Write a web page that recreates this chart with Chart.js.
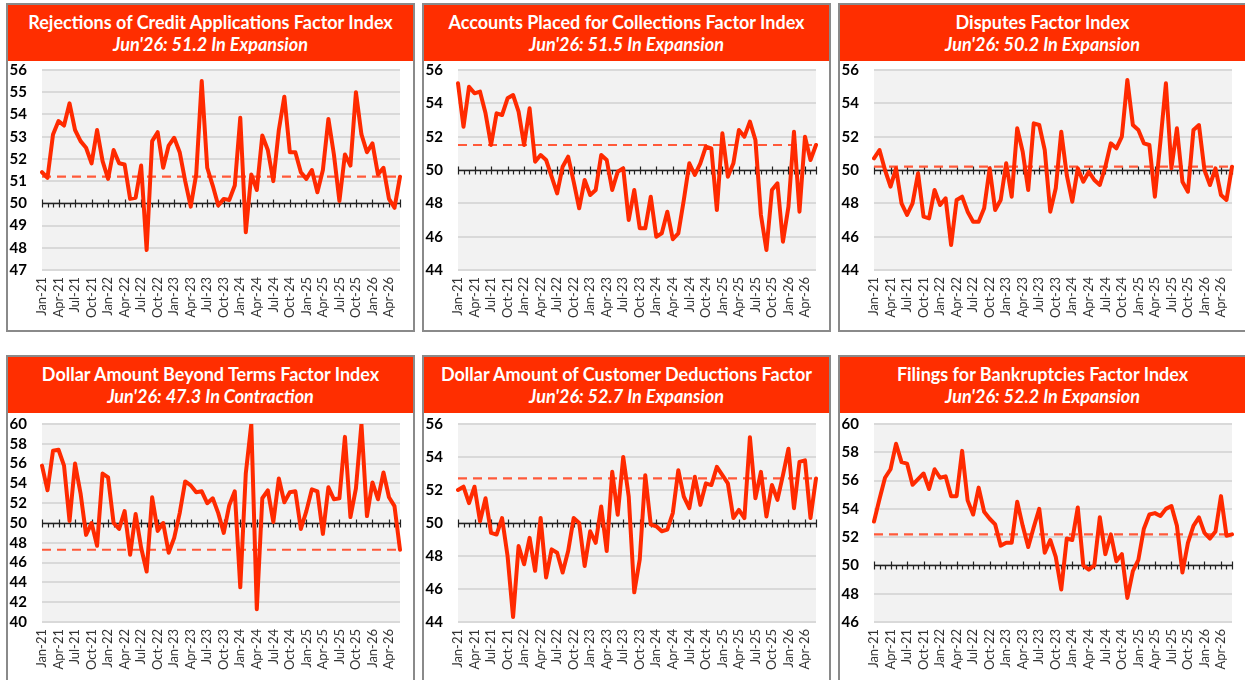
<!DOCTYPE html>
<html>
<head>
<meta charset="utf-8">
<script src="https://cdn.jsdelivr.net/npm/chart.js@4"></script>
<style>
  body { margin:0; background:#fff; width:1245px; height:680px; overflow:hidden; position:relative; font-family:Lato, "Open Sans", sans-serif; }
  .panel { position:absolute; width:409px; height:329px; border:2px solid #8a8a8a; box-sizing:border-box; background:#fff; overflow:hidden; }
  .panel.low { height:340px; }
  .head { position:absolute; left:0; top:0; right:0; height:56px; background:#ff2e00; color:#fff; text-align:center; }
  .head .t { position:absolute; left:0; right:0; top:6px; font-weight:700; font-size:18px; line-height:22px; white-space:nowrap; }
  .head .s { position:absolute; left:0; right:0; top:28px; font-weight:700; font-style:italic; font-size:18px; line-height:22px; white-space:nowrap; }
  .panel canvas { position:absolute; left:0; top:56px; }
</style>
</head>
<body>
<div id="wrap"></div>
<script>
// months Jan-21 .. Jun-26
const MONTHS = ['Jan','Feb','Mar','Apr','May','Jun','Jul','Aug','Sep','Oct','Nov','Dec'];
const YEARS = ['21','22','23','24','25','26'];
const labels = YEARS.flatMap(y => MONTHS.map(m => m + '-' + y)).slice(0, 66);

const titles = [
  'Rejections of Credit Applications Factor Index',
  'Accounts Placed for Collections Factor Index',
  'Disputes Factor Index',
  'Dollar Amount Beyond Terms Factor Index',
  'Dollar Amount of Customer Deductions Factor',
  'Filings for Bankruptcies Factor Index'
];
const subtitles = [
  "Jun'26: 51.2 In Expansion",
  "Jun'26: 51.5 In Expansion",
  "Jun'26: 50.2 In Expansion",
  "Jun'26: 47.3 In Contraction",
  "Jun'26: 52.7 In Expansion",
  "Jun'26: 52.2 In Expansion"
];

const rejections = [51.4,51.15,53.1,53.7,53.5,54.5,53.3,52.8,52.5,51.8,53.3,51.9,
  51.1,52.4,51.8,51.75,50.2,50.25,51.7,47.9,52.8,53.2,51.6,52.6,
  52.95,52.3,51.0,49.85,51.3,55.5,51.6,50.8,49.9,50.2,50.15,50.8,
  53.85,48.7,51.3,50.6,53.05,52.4,51.0,53.3,54.8,52.3,52.3,51.4,
  51.1,51.5,50.5,51.5,53.8,52.2,50.1,52.2,51.7,55.0,53.1,52.3,
  52.7,51.3,51.6,50.2,49.8,51.2];
const collections = [55.2,52.6,55.0,54.6,54.7,53.4,51.5,53.4,53.3,54.3,54.5,53.5,
  51.5,53.7,50.5,50.9,50.6,49.6,48.6,50.2,50.8,49.3,47.7,49.4,
  48.5,48.8,50.9,50.6,48.8,49.9,50.1,47.0,48.8,46.5,46.5,48.4,
  46.0,46.2,47.5,45.85,46.2,48.2,50.4,49.7,50.4,51.4,51.3,47.6,
  52.2,49.6,50.4,52.4,52.0,52.9,51.8,47.3,45.2,48.8,49.2,45.7,
  47.8,52.3,47.5,52.0,50.6,51.5];
const disputes = [50.7,51.2,50.0,49.0,50.1,48.0,47.3,48.0,49.8,47.2,47.1,48.8,
  47.9,48.3,45.5,48.2,48.4,47.5,46.9,46.9,47.7,50.1,47.6,48.2,
  50.4,48.4,52.5,51.1,48.8,52.8,52.7,51.2,47.5,48.9,52.3,49.7,
  48.1,50.1,49.3,49.9,49.4,49.1,50.2,51.6,51.3,52.0,55.4,52.7,
  52.4,51.6,51.5,48.4,51.7,55.2,50.1,52.5,49.3,48.7,52.4,52.7,
  50.0,49.1,50.1,48.5,48.2,50.2];
const beyondTerms = [55.8,53.3,57.3,57.4,55.8,50.2,56.0,53.0,48.8,50.0,47.7,55.0,
  54.6,50.0,49.4,51.2,46.8,50.9,47.5,45.1,52.6,49.2,50.0,47.0,
  48.5,51.0,54.2,53.8,53.1,53.2,52.0,52.5,51.0,49.0,51.8,53.2,
  43.5,55.0,60.0,41.3,52.5,53.3,50.1,54.5,52.1,53.1,53.2,49.4,
  51.2,53.4,53.2,48.9,53.6,52.4,52.5,58.7,50.6,53.5,60.0,50.7,
  54.1,52.4,55.1,52.6,51.7,47.3];
const deductions = [52.0,52.2,51.2,52.2,50.1,51.5,49.4,49.3,50.3,48.0,44.3,48.6,
  47.5,49.1,47.1,50.3,46.7,48.4,48.2,47.0,48.3,50.3,50.0,47.4,
  49.5,48.8,51.0,48.3,53.1,50.5,54.0,51.6,45.8,47.8,52.9,49.9,
  49.8,49.5,49.6,50.6,53.2,51.6,50.9,52.8,51.1,52.4,52.3,53.4,
  52.9,52.4,50.3,50.8,50.3,55.2,51.5,53.1,50.4,52.3,51.4,52.9,
  54.5,50.9,53.7,53.8,50.3,52.7];
const bankruptcies = [53.1,54.7,56.2,56.8,58.6,57.3,57.2,55.7,56.1,56.5,55.4,56.8,
  56.2,56.3,54.9,54.9,58.1,54.6,53.6,55.5,53.8,53.3,52.9,51.4,
  51.6,51.6,54.5,52.8,51.3,52.7,54.0,50.9,51.8,50.6,48.3,51.9,
  51.8,54.1,50.0,49.7,50.0,53.4,50.8,52.2,50.3,50.8,47.7,49.6,
  50.4,52.6,53.6,53.7,53.5,54.0,54.2,52.8,49.5,51.6,52.8,53.4,
  52.3,51.9,52.4,54.9,52.1,52.2];

const series = [rejections, collections, disputes, beyondTerms, deductions, bankruptcies];
const yMins = [47, 44, 44, 40, 44, 46];
const yMaxs = [56, 56, 56, 60, 56, 60];
const ySteps = [1, 2, 2, 2, 2, 2];

const RED = '#ff2a00';
const DASH_RED = '#ff5a3a';
const panelPos = [[6,3],[422,3],[838,3],[6,355],[422,355],[838,355]];

// grey plot background
const plotBg = {
  id: 'plotBg',
  beforeDraw(chart) {
    const { ctx, chartArea: a } = chart;
    ctx.save();
    ctx.fillStyle = '#f2f2f2';
    ctx.fillRect(a.left, a.top, a.right - a.left, a.bottom - a.top);
    ctx.restore();
  }
};

// category axis crossing at 50, with tick marks
const axis50 = {
  id: 'axis50',
  beforeDatasetsDraw(chart) {
    const { ctx, chartArea: a } = chart;
    const xs = chart.scales.x, ys = chart.scales.y;
    const y0 = Math.round(ys.getPixelForValue(50)) + 0.5;
    ctx.save();
    ctx.strokeStyle = '#222';
    ctx.lineWidth = 1.5;
    ctx.beginPath();
    ctx.moveTo(a.left, y0); ctx.lineTo(a.right, y0);
    ctx.stroke();
    ctx.lineWidth = 1.2;
    ctx.beginPath();
    labels.forEach((l, i) => {
      const px = Math.round(xs.getPixelForValue(i)) + 0.5;
      const major = i % 3 === 0 || i === labels.length - 1;
      ctx.moveTo(px, major ? y0 - 4 : y0);
      ctx.lineTo(px, y0 + 4);
    });
    ctx.stroke();
    ctx.restore();
  }
};

// keep the plot area where layout.padding puts it
function noScalePad(s) {
  s.paddingTop = 0; s.paddingBottom = 0; s.paddingLeft = 0; s.paddingRight = 0;
}

const wrap = document.getElementById('wrap');

series.forEach((data, k) => {
  const p = document.createElement('div');
  p.className = 'panel' + (k >= 3 ? ' low' : '');
  p.style.left = panelPos[k][0] + 'px';
  p.style.top = panelPos[k][1] + 'px';
  p.innerHTML = '<div class="head"><div class="t">' + titles[k] + '</div><div class="s">' + subtitles[k] + '</div></div>';
  const cv = document.createElement('canvas');
  cv.width = 405; cv.height = 269;
  cv.style.width = '405px'; cv.style.height = '269px';
  p.appendChild(cv);
  wrap.appendChild(p);

  const last = data[data.length - 1];

  new Chart(cv.getContext('2d'), {
    type: 'line',
    data: {
      labels: labels,
      datasets: [
        { data: data, borderColor: RED, borderWidth: 4, pointRadius: 0, tension: 0,
          borderJoinStyle: 'round', borderCapStyle: 'round', order: 0 },
        { data: labels.map(() => last), borderColor: DASH_RED, borderWidth: 2.2,
          borderDash: [9, 6], pointRadius: 0, order: 1 }
      ]
    },
    options: {
      responsive: false,
      animation: false,
      events: [],
      layout: { padding: { top: k >= 3 ? 11 : 9, right: 13, left: 0, bottom: 0 } },
      plugins: { legend: { display: false }, tooltip: { enabled: false } },
      scales: {
        x: {
          grid: { display: false, drawTicks: false },
          border: { display: false },
          afterFit(s) { s.height = 60; noScalePad(s); },
          ticks: {
            autoSkip: false, minRotation: 90, maxRotation: 90, padding: 7,
            color: '#333', font: { family: 'Lato', size: 13 },
            callback(v, i) { return i % 3 === 0 ? this.getLabelForValue(v) : ''; }
          }
        },
        y: {
          min: yMins[k], max: yMaxs[k],
          grid: { color: '#d9d9d9', lineWidth: 2, drawTicks: false },
          border: { display: false },
          afterFit(s) { s.width = 34; noScalePad(s); },
          ticks: { stepSize: ySteps[k], autoSkip: false, padding: 15, color: '#000',
            font: { family: 'Lato', size: 15, weight: 'bold' } }
        }
      }
    },
    plugins: [plotBg, axis50]
  });
});
</script>
</body>
</html>
